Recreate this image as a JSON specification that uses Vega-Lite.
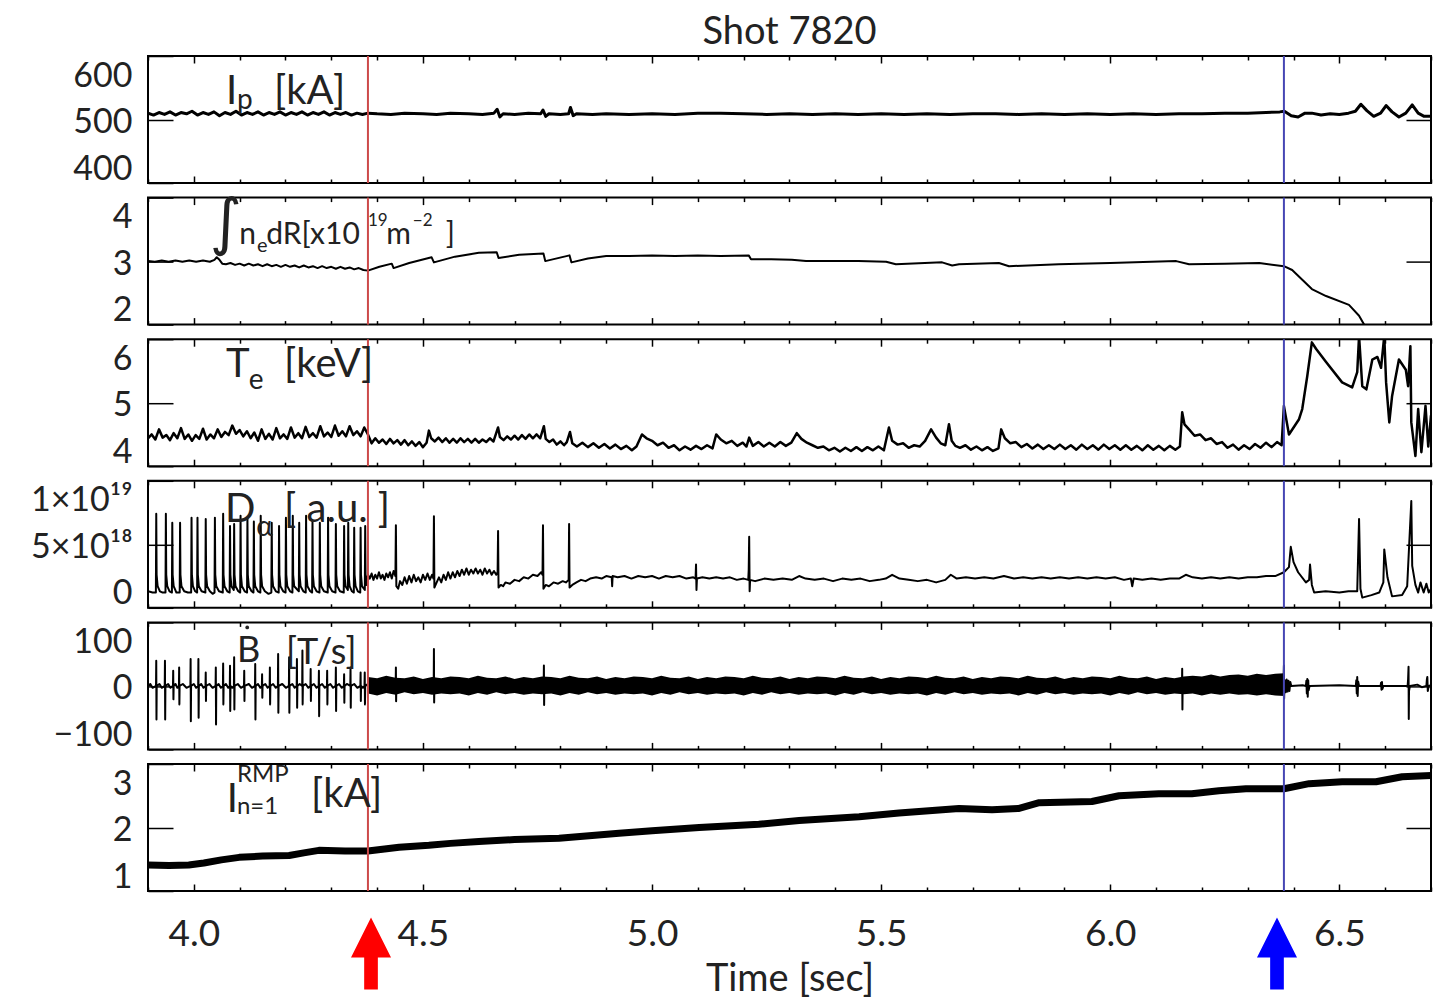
{
"$schema": "https://vega.github.io/schema/vega-lite/v6.json",
"padding": {"left": 29, "right": 2, "top": 13, "bottom": 4},
"background": "white",
"config": {
 "view": {"stroke": "black", "strokeWidth": 2},
 "axis": {"domain": false, "grid": false, "tickColor": "black", "tickWidth": 1.5, "labelFont": "Lato", "labelFontSize": 34, "labelColor": "#222", "labelOverlap": false, "titleFont": "Lato", "titleFontSize": 38, "titleFontWeight": "normal", "titleColor": "#222"},
 "text": {"font": "Lato", "color": "#222"}
},
"spacing": 14.6,
"bounds": "flush",
"vconcat": [
{
 "title": {"text": "Shot 7820", "fontSize": 38, "font": "Lato", "fontWeight": "normal", "color": "#222", "anchor": "middle", "frame": "group", "offset": 3},
 "width": 1283, "height": 127,
 "resolve": {"axis": {"x": "independent", "y": "independent"}},
 "layer": [
  {"data": {"values": [
{"t":3.900,"v":510},{"t":3.912,"v":507},{"t":3.924,"v":511},{"t":3.936,"v":508},{"t":3.948,"v":512},{"t":3.960,"v":507},{"t":3.972,"v":511},{"t":3.984,"v":509},{"t":3.996,"v":513},{"t":4.008,"v":507},{"t":4.020,"v":511},{"t":4.032,"v":508},{"t":4.044,"v":512},{"t":4.056,"v":506},{"t":4.068,"v":511},{"t":4.080,"v":508},{"t":4.092,"v":513},{"t":4.104,"v":507},{"t":4.116,"v":511},{"t":4.128,"v":508},{"t":4.140,"v":512},{"t":4.152,"v":507},{"t":4.164,"v":511},{"t":4.176,"v":508},{"t":4.188,"v":512},{"t":4.200,"v":507},{"t":4.212,"v":511},{"t":4.224,"v":508},{"t":4.236,"v":512},{"t":4.248,"v":507},{"t":4.260,"v":511},{"t":4.272,"v":508},{"t":4.284,"v":512},{"t":4.296,"v":507},{"t":4.308,"v":511},{"t":4.320,"v":508},{"t":4.332,"v":511},{"t":4.344,"v":507},{"t":4.356,"v":510},{"t":4.368,"v":508},{"t":4.380,"v":510},
{"t":4.40,"v":509},{"t":4.43,"v":508},{"t":4.46,"v":510},{"t":4.50,"v":509},{"t":4.53,"v":508},{"t":4.56,"v":510},{"t":4.60,"v":509},{"t":4.63,"v":508},{"t":4.655,"v":510},{"t":4.662,"v":516},{"t":4.668,"v":504},{"t":4.675,"v":509},{"t":4.70,"v":508},{"t":4.73,"v":510},{"t":4.757,"v":509},{"t":4.762,"v":515},{"t":4.768,"v":505},{"t":4.775,"v":509},{"t":4.80,"v":508},{"t":4.818,"v":509},{"t":4.822,"v":519},{"t":4.828,"v":506},{"t":4.835,"v":509},{"t":4.87,"v":508},{"t":4.90,"v":509},{"t":4.95,"v":508},{"t":5.00,"v":509},{"t":5.05,"v":508},{"t":5.10,"v":510},{"t":5.15,"v":510},{"t":5.20,"v":509},{"t":5.25,"v":508},{"t":5.30,"v":509},{"t":5.35,"v":508},{"t":5.40,"v":509},{"t":5.45,"v":508},{"t":5.50,"v":509},{"t":5.55,"v":508},{"t":5.60,"v":509},{"t":5.65,"v":508},{"t":5.70,"v":509},{"t":5.75,"v":509},{"t":5.80,"v":508},{"t":5.85,"v":509},{"t":5.90,"v":508},{"t":5.95,"v":509},{"t":6.00,"v":508},{"t":6.05,"v":509},{"t":6.10,"v":508},{"t":6.15,"v":509},{"t":6.20,"v":509},{"t":6.25,"v":510},{"t":6.30,"v":510},{"t":6.34,"v":511},{"t":6.37,"v":512},{"t":6.38,"v":513},{"t":6.395,"v":506},{"t":6.41,"v":504},{"t":6.425,"v":510},{"t":6.44,"v":510},{"t":6.46,"v":507},{"t":6.48,"v":509},{"t":6.50,"v":508},{"t":6.52,"v":510},{"t":6.535,"v":513},{"t":6.547,"v":524},{"t":6.56,"v":514},{"t":6.575,"v":505},{"t":6.59,"v":510},{"t":6.602,"v":522},{"t":6.615,"v":512},{"t":6.63,"v":504},{"t":6.645,"v":510},{"t":6.659,"v":523},{"t":6.672,"v":510},{"t":6.685,"v":505},{"t":6.70,"v":505}
  ]},
   "mark": {"type": "line", "color": "black", "strokeWidth": 3, "clip": true, "strokeJoin": "round"},
   "encoding": {
    "x": {"field": "t", "type": "quantitative", "scale": {"domain": [3.9, 6.7], "nice": false, "zero": false},
          "axis": {"orient": "bottom", "values": [3.9,4.0,4.1,4.2,4.3,4.4,4.5,4.6,4.7,4.8,4.9,5.0,5.1,5.2,5.3,5.4,5.5,5.6,5.7,5.8,5.9,6.0,6.1,6.2,6.3,6.4,6.5,6.6,6.7], "labels": false, "title": null, "tickSize": {"condition": {"test": "abs(datum.value*2-round(datum.value*2))<0.01", "value": -7}, "value": -4}}},
    "y": {"field": "v", "type": "quantitative", "scale": {"domain": [400, 600], "nice": false, "zero": false},
          "axis": {"orient": "left", "values": [400, 500, 600], "labelExpr": "format(datum.value, 'd')", "labelOverlap": false, "tickSize": -25, "labelPadding": 41, "labelFlush": true, "labelOffset": 3, "title": null}}
   }},
  {"data": {"values": [{"t": 4.38}]}, "mark": {"type": "rule", "color": "#cc4a4a", "strokeWidth": 2}, "encoding": {"x": {"field": "t", "type": "quantitative", "scale": {"domain": [3.9, 6.7], "nice": false, "zero": false}, "axis": null}}},
  {"data": {"values": [{"t": 6.379}]}, "mark": {"type": "rule", "color": "#4646b4", "strokeWidth": 2}, "encoding": {"x": {"field": "t", "type": "quantitative", "scale": {"domain": [3.9, 6.7], "nice": false, "zero": false}, "axis": null}}},
  {"data": {"values": [{"t": 4.070, "v": 524, "txt": "I"}, {"t": 4.175, "v": 524, "txt": "[kA]"}]},
   "mark": {"type": "text", "fontSize": 40, "align": "left", "baseline": "alphabetic"},
   "encoding": {
    "x": {"field": "t", "type": "quantitative", "scale": {"domain": [3.9, 6.7], "nice": false, "zero": false},
          "axis": {"orient": "top", "values": [3.9,4.0,4.1,4.2,4.3,4.4,4.5,4.6,4.7,4.8,4.9,5.0,5.1,5.2,5.3,5.4,5.5,5.6,5.7,5.8,5.9,6.0,6.1,6.2,6.3,6.4,6.5,6.6,6.7], "labels": false, "title": null, "tickSize": {"condition": {"test": "abs(datum.value*2-round(datum.value*2))<0.01", "value": -7}, "value": -4}}},
    "y": {"field": "v", "type": "quantitative", "scale": {"domain": [400, 600], "nice": false, "zero": false},
          "axis": {"orient": "right", "values": [500], "tickSize": -25, "labels": false, "title": null}},
    "text": {"field": "txt"}
   }},
  {"data": {"values": [{"t": 4.094, "v": 516, "txt": "p"}]},
   "mark": {"type": "text", "fontSize": 28, "align": "left", "baseline": "alphabetic"},
   "encoding": {
    "x": {"field": "t", "type": "quantitative", "scale": {"domain": [3.9, 6.7], "nice": false, "zero": false}, "axis": null},
    "y": {"field": "v", "type": "quantitative", "scale": {"domain": [400, 600], "nice": false, "zero": false}, "axis": null},
    "text": {"field": "txt"}
   }}
 ]
},
{
 "width": 1283, "height": 127,
 "resolve": {"axis": {"x": "independent", "y": "independent"}},
 "layer": [
  {"data": {"values": [
{"t":3.900,"v":3.00},{"t":3.915,"v":2.99},{"t":3.930,"v":3.01},{"t":3.945,"v":2.99},{"t":3.960,"v":3.01},{"t":3.975,"v":2.99},{"t":3.990,"v":3.01},{"t":4.005,"v":2.99},{"t":4.020,"v":3.01},{"t":4.035,"v":2.99},{"t":4.045,"v":3.02},{"t":4.050,"v":3.06},{"t":4.056,"v":3.02},{"t":4.062,"v":2.96},{"t":4.070,"v":2.95},{"t":4.080,"v":2.97},{"t":4.090,"v":2.94},{"t":4.100,"v":2.96},{"t":4.110,"v":2.93},{"t":4.120,"v":2.96},{"t":4.130,"v":2.93},{"t":4.140,"v":2.95},{"t":4.150,"v":2.92},{"t":4.160,"v":2.95},{"t":4.170,"v":2.92},{"t":4.180,"v":2.94},{"t":4.190,"v":2.91},{"t":4.200,"v":2.94},{"t":4.210,"v":2.91},{"t":4.220,"v":2.93},{"t":4.230,"v":2.90},{"t":4.240,"v":2.93},{"t":4.250,"v":2.90},{"t":4.260,"v":2.92},{"t":4.270,"v":2.89},{"t":4.280,"v":2.92},{"t":4.290,"v":2.89},{"t":4.300,"v":2.91},{"t":4.310,"v":2.88},{"t":4.320,"v":2.91},{"t":4.330,"v":2.88},{"t":4.340,"v":2.90},{"t":4.350,"v":2.87},{"t":4.360,"v":2.89},{"t":4.370,"v":2.86},{"t":4.380,"v":2.85},{"t":4.405,"v":2.91},{"t":4.432,"v":2.96},{"t":4.436,"v":2.89},{"t":4.470,"v":2.97},{"t":4.519,"v":3.06},{"t":4.524,"v":2.98},{"t":4.570,"v":3.07},{"t":4.622,"v":3.13},{"t":4.661,"v":3.14},{"t":4.665,"v":3.05},{"t":4.710,"v":3.10},{"t":4.763,"v":3.12},{"t":4.767,"v":3.00},{"t":4.820,"v":3.09},{"t":4.824,"v":2.98},{"t":4.860,"v":3.04},{"t":4.900,"v":3.08},{"t":4.950,"v":3.08},{"t":5.000,"v":3.09},{"t":5.050,"v":3.08},{"t":5.100,"v":3.09},{"t":5.150,"v":3.08},{"t":5.211,"v":3.09},{"t":5.216,"v":3.03},{"t":5.260,"v":3.03},{"t":5.305,"v":3.02},{"t":5.336,"v":3.00},{"t":5.400,"v":3.00},{"t":5.450,"v":3.00},{"t":5.511,"v":2.99},{"t":5.532,"v":2.95},{"t":5.633,"v":2.98},{"t":5.655,"v":2.93},{"t":5.670,"v":2.95},{"t":5.757,"v":2.97},{"t":5.779,"v":2.92},{"t":5.888,"v":2.95},{"t":6.000,"v":2.97},{"t":6.144,"v":3.00},{"t":6.172,"v":2.95},{"t":6.250,"v":2.96},{"t":6.325,"v":2.97},{"t":6.379,"v":2.92},{"t":6.397,"v":2.86},{"t":6.440,"v":2.56},{"t":6.471,"v":2.45},{"t":6.521,"v":2.31},{"t":6.543,"v":2.14},{"t":6.554,"v":2.00},{"t":6.600,"v":1.90},{"t":6.700,"v":1.85}
  ]},
   "mark": {"type": "line", "color": "black", "strokeWidth": 2, "clip": true, "strokeJoin": "round"},
   "encoding": {
    "x": {"field": "t", "type": "quantitative", "scale": {"domain": [3.9, 6.7], "nice": false, "zero": false},
          "axis": {"orient": "bottom", "values": [3.9,4.0,4.1,4.2,4.3,4.4,4.5,4.6,4.7,4.8,4.9,5.0,5.1,5.2,5.3,5.4,5.5,5.6,5.7,5.8,5.9,6.0,6.1,6.2,6.3,6.4,6.5,6.6,6.7], "labels": false, "title": null, "tickSize": {"condition": {"test": "abs(datum.value*2-round(datum.value*2))<0.01", "value": -7}, "value": -4}}},
    "y": {"field": "v", "type": "quantitative", "scale": {"domain": [2, 4], "nice": false, "zero": false},
          "axis": {"orient": "left", "values": [2, 3, 4], "labelExpr": "format(datum.value, 'd')", "labelOverlap": false, "tickSize": -25, "labelPadding": 41, "labelFlush": true, "labelOffset": 3, "title": null}}
   }},
  {"data": {"values": [{"t": 4.38}]}, "mark": {"type": "rule", "color": "#cc4a4a", "strokeWidth": 2}, "encoding": {"x": {"field": "t", "type": "quantitative", "scale": {"domain": [3.9, 6.7], "nice": false, "zero": false}, "axis": null}}},
  {"data": {"values": [{"t": 6.379}]}, "mark": {"type": "rule", "color": "#4646b4", "strokeWidth": 2}, "encoding": {"x": {"field": "t", "type": "quantitative", "scale": {"domain": [3.9, 6.7], "nice": false, "zero": false}, "axis": null}}},
  {"data": {"values": [{"t": 4.099, "v": 3.266, "txt": "n"}, {"t": 4.158, "v": 3.266, "txt": "dR[x10"}, {"t": 4.420, "v": 3.266, "txt": "m"}, {"t": 4.550, "v": 3.266, "txt": "]"}]},
   "mark": {"type": "text", "fontSize": 30, "align": "left", "baseline": "alphabetic"},
   "encoding": {
    "x": {"field": "t", "type": "quantitative", "scale": {"domain": [3.9, 6.7], "nice": false, "zero": false},
          "axis": {"orient": "top", "values": [3.9,4.0,4.1,4.2,4.3,4.4,4.5,4.6,4.7,4.8,4.9,5.0,5.1,5.2,5.3,5.4,5.5,5.6,5.7,5.8,5.9,6.0,6.1,6.2,6.3,6.4,6.5,6.6,6.7], "labels": false, "title": null, "tickSize": {"condition": {"test": "abs(datum.value*2-round(datum.value*2))<0.01", "value": -7}, "value": -4}}},
    "y": {"field": "v", "type": "quantitative", "scale": {"domain": [2, 4], "nice": false, "zero": false},
          "axis": {"orient": "right", "values": [3], "tickSize": -25, "labels": false, "title": null}},
    "text": {"field": "txt"}
   }},
  {"data": {"values": [{"t": 4.138, "v": 3.14, "txt": "e"}]},
   "mark": {"type": "text", "fontSize": 20, "align": "left", "baseline": "alphabetic"},
   "encoding": {
    "x": {"field": "t", "type": "quantitative", "scale": {"domain": [3.9, 6.7], "nice": false, "zero": false}, "axis": null},
    "y": {"field": "v", "type": "quantitative", "scale": {"domain": [2, 4], "nice": false, "zero": false}, "axis": null},
    "text": {"field": "txt"}
   }},
  {"data": {"values": [{"t": 4.380, "v": 3.56, "txt": "19"}, {"t": 4.478, "v": 3.56, "txt": "−2"}]},
   "mark": {"type": "text", "fontSize": 17, "align": "left", "baseline": "alphabetic"},
   "encoding": {
    "x": {"field": "t", "type": "quantitative", "scale": {"domain": [3.9, 6.7], "nice": false, "zero": false}, "axis": null},
    "y": {"field": "v", "type": "quantitative", "scale": {"domain": [2, 4], "nice": false, "zero": false}, "axis": null},
    "text": {"field": "txt"}
   }},
  {"data": {"values": [{"t": 4.034, "v": 3.28, "txt": "∫"}]},
   "mark": {"type": "text", "fontSize": 62, "font": "DejaVu Sans", "align": "left", "baseline": "alphabetic"},
   "encoding": {
    "x": {"field": "t", "type": "quantitative", "scale": {"domain": [3.9, 6.7], "nice": false, "zero": false}, "axis": null},
    "y": {"field": "v", "type": "quantitative", "scale": {"domain": [2, 4], "nice": false, "zero": false}, "axis": null},
    "text": {"field": "txt"}
   }}
 ]
},
{
 "width": 1283, "height": 127,
 "resolve": {"axis": {"x": "independent", "y": "independent"}},
 "layer": [
  {"data": {"values": [
{"t":3.900,"v":4.44},{"t":3.908,"v":4.50},{"t":3.916,"v":4.42},{"t":3.924,"v":4.58},{"t":3.932,"v":4.45},{"t":3.940,"v":4.49},{"t":3.948,"v":4.41},{"t":3.956,"v":4.52},{"t":3.964,"v":4.44},{"t":3.972,"v":4.60},{"t":3.980,"v":4.43},{"t":3.988,"v":4.50},{"t":3.996,"v":4.40},{"t":4.004,"v":4.49},{"t":4.012,"v":4.43},{"t":4.020,"v":4.59},{"t":4.028,"v":4.42},{"t":4.036,"v":4.50},{"t":4.044,"v":4.44},{"t":4.052,"v":4.58},{"t":4.060,"v":4.46},{"t":4.068,"v":4.54},{"t":4.076,"v":4.49},{"t":4.084,"v":4.64},{"t":4.092,"v":4.51},{"t":4.100,"v":4.57},{"t":4.108,"v":4.47},{"t":4.116,"v":4.55},{"t":4.124,"v":4.44},{"t":4.132,"v":4.53},{"t":4.140,"v":4.40},{"t":4.148,"v":4.58},{"t":4.156,"v":4.43},{"t":4.164,"v":4.51},{"t":4.172,"v":4.42},{"t":4.180,"v":4.60},{"t":4.188,"v":4.44},{"t":4.196,"v":4.50},{"t":4.204,"v":4.43},{"t":4.212,"v":4.61},{"t":4.220,"v":4.45},{"t":4.228,"v":4.52},{"t":4.236,"v":4.44},{"t":4.244,"v":4.62},{"t":4.252,"v":4.46},{"t":4.260,"v":4.52},{"t":4.268,"v":4.45},{"t":4.276,"v":4.63},{"t":4.284,"v":4.47},{"t":4.292,"v":4.53},{"t":4.300,"v":4.46},{"t":4.308,"v":4.64},{"t":4.316,"v":4.48},{"t":4.324,"v":4.55},{"t":4.332,"v":4.47},{"t":4.340,"v":4.63},{"t":4.348,"v":4.49},{"t":4.356,"v":4.55},{"t":4.364,"v":4.47},{"t":4.372,"v":4.61},{"t":4.380,"v":4.50},
{"t":4.388,"v":4.36},{"t":4.396,"v":4.44},{"t":4.404,"v":4.37},{"t":4.412,"v":4.42},{"t":4.420,"v":4.35},{"t":4.428,"v":4.43},{"t":4.436,"v":4.36},{"t":4.444,"v":4.41},{"t":4.452,"v":4.34},{"t":4.460,"v":4.41},{"t":4.468,"v":4.33},{"t":4.476,"v":4.39},{"t":4.484,"v":4.32},{"t":4.492,"v":4.38},{"t":4.500,"v":4.30},{"t":4.508,"v":4.37},{"t":4.513,"v":4.56},{"t":4.518,"v":4.44},{"t":4.526,"v":4.39},{"t":4.534,"v":4.45},{"t":4.542,"v":4.38},{"t":4.550,"v":4.44},{"t":4.558,"v":4.37},{"t":4.566,"v":4.43},{"t":4.574,"v":4.37},{"t":4.582,"v":4.44},{"t":4.590,"v":4.38},{"t":4.598,"v":4.43},{"t":4.606,"v":4.37},{"t":4.614,"v":4.43},{"t":4.622,"v":4.37},{"t":4.630,"v":4.42},{"t":4.638,"v":4.38},{"t":4.646,"v":4.44},{"t":4.654,"v":4.39},{"t":4.664,"v":4.61},{"t":4.668,"v":4.46},{"t":4.676,"v":4.41},{"t":4.684,"v":4.47},{"t":4.692,"v":4.42},{"t":4.700,"v":4.48},{"t":4.708,"v":4.42},{"t":4.716,"v":4.49},{"t":4.724,"v":4.43},{"t":4.732,"v":4.50},{"t":4.740,"v":4.44},{"t":4.748,"v":4.50},{"t":4.756,"v":4.44},{"t":4.764,"v":4.63},{"t":4.768,"v":4.43},{"t":4.776,"v":4.38},{"t":4.784,"v":4.42},{"t":4.792,"v":4.34},{"t":4.800,"v":4.39},{"t":4.808,"v":4.33},{"t":4.814,"v":4.38},{"t":4.821,"v":4.54},{"t":4.826,"v":4.36},{"t":4.836,"v":4.31},{"t":4.848,"v":4.37},{"t":4.860,"v":4.30},{"t":4.872,"v":4.36},{"t":4.884,"v":4.29},{"t":4.896,"v":4.35},{"t":4.908,"v":4.28},{"t":4.920,"v":4.34},{"t":4.932,"v":4.27},{"t":4.944,"v":4.32},{"t":4.956,"v":4.25},{"t":4.966,"v":4.31},{"t":4.978,"v":4.50},{"t":4.988,"v":4.44},{"t":5.000,"v":4.40},{"t":5.012,"v":4.33},{"t":5.024,"v":4.37},{"t":5.036,"v":4.29},{"t":5.048,"v":4.33},{"t":5.060,"v":4.25},{"t":5.072,"v":4.31},{"t":5.084,"v":4.26},{"t":5.096,"v":4.32},{"t":5.108,"v":4.27},{"t":5.120,"v":4.33},{"t":5.132,"v":4.28},{"t":5.140,"v":4.50},{"t":5.150,"v":4.42},{"t":5.162,"v":4.36},{"t":5.174,"v":4.40},{"t":5.186,"v":4.32},{"t":5.198,"v":4.37},{"t":5.206,"v":4.31},{"t":5.212,"v":4.45},{"t":5.220,"v":4.32},{"t":5.232,"v":4.38},{"t":5.244,"v":4.31},{"t":5.256,"v":4.37},{"t":5.268,"v":4.31},{"t":5.280,"v":4.38},{"t":5.292,"v":4.32},{"t":5.304,"v":4.37},{"t":5.316,"v":4.52},{"t":5.326,"v":4.43},{"t":5.338,"v":4.37},{"t":5.350,"v":4.33},{"t":5.362,"v":4.29},{"t":5.374,"v":4.31},{"t":5.386,"v":4.25},{"t":5.398,"v":4.29},{"t":5.410,"v":4.23},{"t":5.422,"v":4.29},{"t":5.434,"v":4.24},{"t":5.446,"v":4.30},{"t":5.458,"v":4.24},{"t":5.470,"v":4.30},{"t":5.482,"v":4.25},{"t":5.494,"v":4.31},{"t":5.506,"v":4.25},{"t":5.517,"v":4.61},{"t":5.524,"v":4.40},{"t":5.536,"v":4.34},{"t":5.548,"v":4.36},{"t":5.560,"v":4.29},{"t":5.572,"v":4.33},{"t":5.584,"v":4.31},{"t":5.596,"v":4.40},{"t":5.609,"v":4.58},{"t":5.620,"v":4.45},{"t":5.630,"v":4.36},{"t":5.640,"v":4.33},{"t":5.648,"v":4.66},{"t":5.654,"v":4.40},{"t":5.662,"v":4.32},{"t":5.672,"v":4.29},{"t":5.684,"v":4.33},{"t":5.696,"v":4.26},{"t":5.708,"v":4.31},{"t":5.720,"v":4.25},{"t":5.732,"v":4.30},{"t":5.744,"v":4.24},{"t":5.756,"v":4.28},{"t":5.762,"v":4.58},{"t":5.770,"v":4.44},{"t":5.782,"v":4.36},{"t":5.794,"v":4.38},{"t":5.806,"v":4.30},{"t":5.818,"v":4.35},{"t":5.830,"v":4.28},{"t":5.842,"v":4.34},{"t":5.854,"v":4.27},{"t":5.866,"v":4.33},{"t":5.878,"v":4.27},{"t":5.890,"v":4.34},{"t":5.902,"v":4.27},{"t":5.914,"v":4.33},{"t":5.926,"v":4.26},{"t":5.938,"v":4.34},{"t":5.950,"v":4.27},{"t":5.962,"v":4.33},{"t":5.974,"v":4.26},{"t":5.986,"v":4.34},{"t":5.998,"v":4.27},{"t":6.010,"v":4.33},{"t":6.022,"v":4.26},{"t":6.034,"v":4.33},{"t":6.046,"v":4.26},{"t":6.058,"v":4.32},{"t":6.070,"v":4.25},{"t":6.082,"v":4.33},{"t":6.094,"v":4.26},{"t":6.106,"v":4.32},{"t":6.118,"v":4.25},{"t":6.130,"v":4.32},{"t":6.142,"v":4.26},{"t":6.152,"v":4.31},{"t":6.157,"v":4.85},{"t":6.162,"v":4.66},{"t":6.172,"v":4.58},{"t":6.184,"v":4.48},{"t":6.196,"v":4.50},{"t":6.208,"v":4.41},{"t":6.220,"v":4.44},{"t":6.232,"v":4.35},{"t":6.244,"v":4.38},{"t":6.256,"v":4.29},{"t":6.268,"v":4.34},{"t":6.280,"v":4.26},{"t":6.292,"v":4.33},{"t":6.304,"v":4.27},{"t":6.316,"v":4.35},{"t":6.328,"v":4.29},{"t":6.340,"v":4.37},{"t":6.352,"v":4.30},{"t":6.364,"v":4.38},{"t":6.374,"v":4.33},
{"t":6.379,"v":4.95},{"t":6.390,"v":4.50},{"t":6.412,"v":4.74},{"t":6.419,"v":4.90},{"t":6.430,"v":5.42},{"t":6.440,"v":5.95},{"t":6.449,"v":5.85},{"t":6.471,"v":5.64},{"t":6.506,"v":5.32},{"t":6.528,"v":5.24},{"t":6.539,"v":5.48},{"t":6.543,"v":6.05},{"t":6.550,"v":5.26},{"t":6.559,"v":5.21},{"t":6.572,"v":5.68},{"t":6.583,"v":5.72},{"t":6.591,"v":5.55},{"t":6.598,"v":6.05},{"t":6.602,"v":5.32},{"t":6.609,"v":4.69},{"t":6.615,"v":5.10},{"t":6.630,"v":5.68},{"t":6.645,"v":5.52},{"t":6.650,"v":5.26},{"t":6.655,"v":5.89},{"t":6.657,"v":4.69},{"t":6.666,"v":4.16},{"t":6.672,"v":4.90},{"t":6.679,"v":4.22},{"t":6.688,"v":4.95},{"t":6.694,"v":4.31},{"t":6.700,"v":4.80}
  ]},
   "mark": {"type": "line", "color": "black", "strokeWidth": 2.5, "clip": true, "strokeJoin": "round"},
   "encoding": {
    "x": {"field": "t", "type": "quantitative", "scale": {"domain": [3.9, 6.7], "nice": false, "zero": false},
          "axis": {"orient": "bottom", "values": [3.9,4.0,4.1,4.2,4.3,4.4,4.5,4.6,4.7,4.8,4.9,5.0,5.1,5.2,5.3,5.4,5.5,5.6,5.7,5.8,5.9,6.0,6.1,6.2,6.3,6.4,6.5,6.6,6.7], "labels": false, "title": null, "tickSize": {"condition": {"test": "abs(datum.value*2-round(datum.value*2))<0.01", "value": -7}, "value": -4}}},
    "y": {"field": "v", "type": "quantitative", "scale": {"domain": [4, 6], "nice": false, "zero": false},
          "axis": {"orient": "left", "values": [4, 5, 6], "labelExpr": "format(datum.value, 'd')", "labelOverlap": false, "tickSize": -25, "labelPadding": 41, "labelFlush": true, "labelOffset": 3, "title": null}}
   }},
  {"data": {"values": [{"t": 4.38}]}, "mark": {"type": "rule", "color": "#cc4a4a", "strokeWidth": 2}, "encoding": {"x": {"field": "t", "type": "quantitative", "scale": {"domain": [3.9, 6.7], "nice": false, "zero": false}, "axis": null}}},
  {"data": {"values": [{"t": 6.379}]}, "mark": {"type": "rule", "color": "#4646b4", "strokeWidth": 2}, "encoding": {"x": {"field": "t", "type": "quantitative", "scale": {"domain": [3.9, 6.7], "nice": false, "zero": false}, "axis": null}}},
  {"data": {"values": [{"t": 4.070, "v": 5.402, "txt": "T"}, {"t": 4.197, "v": 5.402, "txt": "[keV]"}]},
   "mark": {"type": "text", "fontSize": 40, "align": "left", "baseline": "alphabetic"},
   "encoding": {
    "x": {"field": "t", "type": "quantitative", "scale": {"domain": [3.9, 6.7], "nice": false, "zero": false},
          "axis": {"orient": "top", "values": [3.9,4.0,4.1,4.2,4.3,4.4,4.5,4.6,4.7,4.8,4.9,5.0,5.1,5.2,5.3,5.4,5.5,5.6,5.7,5.8,5.9,6.0,6.1,6.2,6.3,6.4,6.5,6.6,6.7], "labels": false, "title": null, "tickSize": {"condition": {"test": "abs(datum.value*2-round(datum.value*2))<0.01", "value": -7}, "value": -4}}},
    "y": {"field": "v", "type": "quantitative", "scale": {"domain": [4, 6], "nice": false, "zero": false},
          "axis": {"orient": "right", "values": [5], "tickSize": -25, "labels": false, "title": null}},
    "text": {"field": "txt"}
   }},
  {"data": {"values": [{"t": 4.120, "v": 5.213, "txt": "e"}]},
   "mark": {"type": "text", "fontSize": 28, "align": "left", "baseline": "alphabetic"},
   "encoding": {
    "x": {"field": "t", "type": "quantitative", "scale": {"domain": [3.9, 6.7], "nice": false, "zero": false}, "axis": null},
    "y": {"field": "v", "type": "quantitative", "scale": {"domain": [4, 6], "nice": false, "zero": false}, "axis": null},
    "text": {"field": "txt"}
   }}
 ]
},
{
 "width": 1283, "height": 127,
 "resolve": {"axis": {"x": "independent", "y": "independent"}},
 "layer": [
  {"data": {"values": [
{"t":3.900,"v":1.3e18},{"t":3.910,"v":1.2e18},{"t":3.9172,"v":1.2e18},{"t":3.918,"v":7.4e18},{"t":3.9188,"v":2.6e18},{"t":3.921,"v":1.7e18},{"t":3.926,"v":1.3e18},{"t":3.932,"v":1.2e18},{"t":3.9382,"v":1.2e18},{"t":3.939,"v":7.4e18},{"t":3.9398,"v":2.6e18},{"t":3.942,"v":1.7e18},{"t":3.947,"v":1.3e18},{"t":3.9522,"v":1.2e18},{"t":3.953,"v":6.7e18},{"t":3.9538,"v":2.6e18},{"t":3.956,"v":1.7e18},{"t":3.962,"v":1.2e18},{"t":3.9692,"v":1.2e18},{"t":3.970,"v":6.7e18},{"t":3.9708,"v":2.6e18},{"t":3.973,"v":1.7e18},{"t":3.979,"v":1.3e18},{"t":3.987,"v":1.2e18},{"t":3.9942,"v":1.2e18},{"t":3.995,"v":7.1e18},{"t":3.9958,"v":2.6e18},{"t":3.998,"v":1.7e18},{"t":4.003,"v":1.3e18},{"t":4.0072,"v":1.2e18},{"t":4.008,"v":7.1e18},{"t":4.0088,"v":2.6e18},{"t":4.011,"v":1.7e18},{"t":4.017,"v":1.3e18},{"t":4.0252,"v":1.2e18},{"t":4.026,"v":7.0e18},{"t":4.0268,"v":2.6e18},{"t":4.029,"v":1.7e18},{"t":4.035,"v":1.3e18},{"t":4.041,"v":1.1e18},{"t":4.0452,"v":1.2e18},{"t":4.046,"v":7.1e18},{"t":4.0468,"v":2.6e18},{"t":4.049,"v":1.7e18},{"t":4.055,"v":1.3e18},{"t":4.0632,"v":1.2e18},{"t":4.064,"v":7.4e18},{"t":4.0648,"v":2.6e18},{"t":4.067,"v":1.7e18},{"t":4.073,"v":1.3e18},{"t":4.0782,"v":1.2e18},{"t":4.079,"v":6.45e18},{"t":4.0798,"v":2.6e18},{"t":4.082,"v":1.7e18},{"t":4.0872,"v":1.4e18},{"t":4.088,"v":6.6e18},{"t":4.0888,"v":2.6e18},{"t":4.091,"v":1.7e18},{"t":4.097,"v":1.3e18},{"t":4.1012,"v":1.2e18},{"t":4.102,"v":7.25e18},{"t":4.1028,"v":2.6e18},{"t":4.105,"v":1.7e18},{"t":4.111,"v":1.3e18},{"t":4.1162,"v":1.2e18},{"t":4.117,"v":7.1e18},{"t":4.1178,"v":2.6e18},{"t":4.120,"v":1.7e18},{"t":4.126,"v":1.3e18},{"t":4.1302,"v":1.2e18},{"t":4.131,"v":6.8e18},{"t":4.1318,"v":2.6e18},{"t":4.134,"v":1.7e18},{"t":4.140,"v":1.3e18},{"t":4.1452,"v":1.2e18},{"t":4.146,"v":7.25e18},{"t":4.1468,"v":2.6e18},{"t":4.149,"v":1.7e18},{"t":4.155,"v":1.3e18},{"t":4.163,"v":1.1e18},{"t":4.1692,"v":1.2e18},{"t":4.170,"v":6.7e18},{"t":4.1708,"v":2.6e18},{"t":4.173,"v":1.7e18},{"t":4.179,"v":1.3e18},{"t":4.1852,"v":1.2e18},{"t":4.186,"v":6.45e18},{"t":4.1868,"v":2.6e18},{"t":4.189,"v":1.7e18},{"t":4.195,"v":1.3e18},{"t":4.2002,"v":1.2e18},{"t":4.201,"v":7.1e18},{"t":4.2018,"v":2.6e18},{"t":4.204,"v":1.7e18},{"t":4.210,"v":1.3e18},{"t":4.2152,"v":1.2e18},{"t":4.216,"v":7.25e18},{"t":4.2168,"v":2.6e18},{"t":4.219,"v":1.7e18},{"t":4.2292,"v":1.3e18},{"t":4.230,"v":6.7e18},{"t":4.2308,"v":2.6e18},{"t":4.233,"v":1.7e18},{"t":4.239,"v":1.3e18},{"t":4.2442,"v":1.2e18},{"t":4.245,"v":7.25e18},{"t":4.2458,"v":2.6e18},{"t":4.248,"v":1.7e18},{"t":4.254,"v":1.3e18},{"t":4.2582,"v":1.2e18},{"t":4.259,"v":6.85e18},{"t":4.2598,"v":2.6e18},{"t":4.262,"v":1.7e18},{"t":4.268,"v":1.3e18},{"t":4.2742,"v":1.2e18},{"t":4.275,"v":6.7e18},{"t":4.2758,"v":2.6e18},{"t":4.278,"v":1.7e18},{"t":4.284,"v":1.3e18},{"t":4.2922,"v":1.2e18},{"t":4.293,"v":7.1e18},{"t":4.2938,"v":2.6e18},{"t":4.296,"v":1.7e18},{"t":4.302,"v":1.3e18},{"t":4.3092,"v":1.2e18},{"t":4.310,"v":6.6e18},{"t":4.3108,"v":2.6e18},{"t":4.313,"v":1.7e18},{"t":4.319,"v":1.3e18},{"t":4.3272,"v":1.2e18},{"t":4.328,"v":6.45e18},{"t":4.3288,"v":2.6e18},{"t":4.331,"v":1.7e18},{"t":4.3362,"v":1.4e18},{"t":4.337,"v":6.7e18},{"t":4.3378,"v":2.6e18},{"t":4.340,"v":1.7e18},{"t":4.345,"v":1.3e18},{"t":4.3492,"v":1.2e18},{"t":4.350,"v":6.3e18},{"t":4.3508,"v":2.6e18},{"t":4.353,"v":1.7e18},{"t":4.358,"v":1.3e18},{"t":4.3632,"v":1.2e18},{"t":4.364,"v":6.3e18},{"t":4.3648,"v":2.6e18},{"t":4.367,"v":1.7e18},{"t":4.3732,"v":1.4e18},{"t":4.374,"v":6.45e18},{"t":4.3748,"v":2.6e18},{"t":4.377,"v":1.8e18},{"t":4.380,"v":2.6e18},
{"t":4.384,"v":2.3e18},{"t":4.388,"v":2.7e18},{"t":4.392,"v":2.2e18},{"t":4.396,"v":2.6e18},{"t":4.400,"v":2.3e18},{"t":4.404,"v":2.8e18},{"t":4.408,"v":2.3e18},{"t":4.412,"v":2.6e18},{"t":4.416,"v":2.2e18},{"t":4.420,"v":2.7e18},{"t":4.424,"v":2.4e18},{"t":4.428,"v":2.8e18},{"t":4.432,"v":2.3e18},{"t":4.436,"v":2.9e18},{"t":4.440,"v":2.5e18},{"t":4.441,"v":6.5e18},{"t":4.442,"v":1.7e18},{"t":4.446,"v":1.5e18},{"t":4.450,"v":2.1e18},{"t":4.455,"v":1.8e18},{"t":4.460,"v":2.4e18},{"t":4.465,"v":1.9e18},{"t":4.470,"v":2.5e18},{"t":4.475,"v":2.0e18},{"t":4.480,"v":2.6e18},{"t":4.485,"v":2.1e18},{"t":4.490,"v":2.4e18},{"t":4.495,"v":2.0e18},{"t":4.500,"v":2.6e18},{"t":4.505,"v":2.2e18},{"t":4.510,"v":2.7e18},{"t":4.515,"v":2.2e18},{"t":4.520,"v":2.6e18},{"t":4.523,"v":2.3e18},{"t":4.524,"v":7.2e18},{"t":4.525,"v":1.6e18},{"t":4.530,"v":2.0e18},{"t":4.535,"v":2.4e18},{"t":4.540,"v":2.0e18},{"t":4.545,"v":2.6e18},{"t":4.550,"v":2.2e18},{"t":4.555,"v":2.8e18},{"t":4.560,"v":2.3e18},{"t":4.565,"v":2.8e18},{"t":4.570,"v":2.4e18},{"t":4.575,"v":2.9e18},{"t":4.580,"v":2.5e18},{"t":4.585,"v":3.0e18},{"t":4.590,"v":2.6e18},{"t":4.595,"v":3.1e18},{"t":4.600,"v":2.6e18},{"t":4.605,"v":3.0e18},{"t":4.610,"v":2.7e18},{"t":4.615,"v":3.1e18},{"t":4.620,"v":2.7e18},{"t":4.625,"v":3.0e18},{"t":4.630,"v":2.6e18},{"t":4.635,"v":3.1e18},{"t":4.640,"v":2.7e18},{"t":4.645,"v":3.0e18},{"t":4.650,"v":2.6e18},{"t":4.655,"v":2.9e18},{"t":4.660,"v":2.6e18},{"t":4.663,"v":2.8e18},{"t":4.664,"v":6.05e18},{"t":4.665,"v":1.6e18},{"t":4.670,"v":1.8e18},{"t":4.675,"v":1.7e18},{"t":4.680,"v":2.0e18},{"t":4.690,"v":1.9e18},{"t":4.700,"v":2.2e18},{"t":4.710,"v":2.1e18},{"t":4.720,"v":2.4e18},{"t":4.730,"v":2.3e18},{"t":4.740,"v":2.6e18},{"t":4.750,"v":2.5e18},{"t":4.758,"v":2.8e18},{"t":4.761,"v":2.6e18},{"t":4.762,"v":6.5e18},{"t":4.763,"v":1.5e18},{"t":4.768,"v":1.8e18},{"t":4.775,"v":1.7e18},{"t":4.785,"v":2.0e18},{"t":4.795,"v":1.9e18},{"t":4.805,"v":2.1e18},{"t":4.812,"v":2.0e18},{"t":4.818,"v":2.2e18},{"t":4.819,"v":6.6e18},{"t":4.820,"v":1.6e18},{"t":4.826,"v":1.8e18},{"t":4.835,"v":2.0e18},{"t":4.845,"v":2.2e18},{"t":4.855,"v":2.1e18},{"t":4.865,"v":2.3e18},{"t":4.878,"v":2.4e18},{"t":4.890,"v":2.3e18},{"t":4.900,"v":2.5e18},{"t":4.912,"v":2.4e18},{"t":4.913,"v":1.7e18},{"t":4.914,"v":2.5e18},{"t":4.925,"v":2.4e18},{"t":4.940,"v":2.5e18},{"t":4.955,"v":2.3e18},{"t":4.970,"v":2.5e18},{"t":4.985,"v":2.4e18},{"t":5.000,"v":2.5e18},{"t":5.015,"v":2.3e18},{"t":5.030,"v":2.5e18},{"t":5.045,"v":2.4e18},{"t":5.060,"v":2.5e18},{"t":5.075,"v":2.3e18},{"t":5.090,"v":2.4e18},{"t":5.095,"v":2.3e18},{"t":5.096,"v":3.4e18},{"t":5.097,"v":1.4e18},{"t":5.098,"v":2.3e18},{"t":5.110,"v":2.4e18},{"t":5.125,"v":2.3e18},{"t":5.140,"v":2.4e18},{"t":5.155,"v":2.3e18},{"t":5.170,"v":2.4e18},{"t":5.185,"v":2.2e18},{"t":5.200,"v":2.3e18},{"t":5.210,"v":2.2e18},{"t":5.211,"v":3.0e18},{"t":5.212,"v":5.6e18},{"t":5.213,"v":1.3e18},{"t":5.214,"v":2.2e18},
{"t":5.225,"v":2.1e18},{"t":5.245,"v":2.3e18},{"t":5.265,"v":2.2e18},{"t":5.285,"v":2.3e18},{"t":5.305,"v":2.2e18},{"t":5.321,"v":2.5e18},{"t":5.335,"v":2.3e18},{"t":5.355,"v":2.2e18},{"t":5.375,"v":2.3e18},{"t":5.395,"v":2.1e18},{"t":5.415,"v":2.3e18},{"t":5.435,"v":2.2e18},{"t":5.455,"v":2.3e18},{"t":5.475,"v":2.1e18},{"t":5.495,"v":2.2e18},{"t":5.510,"v":2.3e18},{"t":5.524,"v":2.6e18},{"t":5.540,"v":2.3e18},{"t":5.560,"v":2.2e18},{"t":5.580,"v":2.1e18},{"t":5.600,"v":2.2e18},{"t":5.620,"v":2.0e18},{"t":5.640,"v":2.2e18},{"t":5.652,"v":2.6e18},{"t":5.665,"v":2.3e18},{"t":5.685,"v":2.4e18},{"t":5.705,"v":2.3e18},{"t":5.725,"v":2.4e18},{"t":5.745,"v":2.3e18},{"t":5.768,"v":2.5e18},{"t":5.790,"v":2.3e18},{"t":5.810,"v":2.4e18},{"t":5.830,"v":2.3e18},{"t":5.850,"v":2.4e18},{"t":5.870,"v":2.3e18},{"t":5.890,"v":2.4e18},{"t":5.910,"v":2.3e18},{"t":5.930,"v":2.4e18},{"t":5.950,"v":2.3e18},{"t":5.970,"v":2.4e18},{"t":5.990,"v":2.3e18},{"t":6.010,"v":2.4e18},{"t":6.030,"v":2.2e18},{"t":6.045,"v":2.3e18},{"t":6.048,"v":1.7e18},{"t":6.051,"v":2.3e18},{"t":6.070,"v":2.2e18},{"t":6.090,"v":2.3e18},{"t":6.110,"v":2.2e18},{"t":6.130,"v":2.3e18},{"t":6.150,"v":2.3e18},{"t":6.165,"v":2.6e18},{"t":6.180,"v":2.4e18},{"t":6.200,"v":2.3e18},{"t":6.220,"v":2.4e18},{"t":6.240,"v":2.3e18},{"t":6.260,"v":2.4e18},{"t":6.280,"v":2.3e18},{"t":6.300,"v":2.4e18},{"t":6.320,"v":2.4e18},{"t":6.340,"v":2.5e18},{"t":6.360,"v":2.5e18},{"t":6.379,"v":2.8e18},
{"t":6.390,"v":3.2e18},{"t":6.394,"v":4.8e18},{"t":6.400,"v":3.6e18},{"t":6.410,"v":2.8e18},{"t":6.427,"v":2.0e18},{"t":6.434,"v":2.2e18},{"t":6.436,"v":3.4e18},{"t":6.440,"v":1.8e18},{"t":6.445,"v":1.2e18},{"t":6.470,"v":1.3e18},{"t":6.500,"v":1.2e18},{"t":6.520,"v":1.3e18},{"t":6.539,"v":1.3e18},{"t":6.543,"v":7.0e18},{"t":6.546,"v":1.5e18},{"t":6.550,"v":0.8e18},{"t":6.570,"v":1.0e18},{"t":6.587,"v":1.2e18},{"t":6.596,"v":2.0e18},{"t":6.598,"v":4.6e18},{"t":6.605,"v":2.4e18},{"t":6.615,"v":0.9e18},{"t":6.637,"v":1.0e18},{"t":6.648,"v":1.7e18},{"t":6.657,"v":8.4e18},{"t":6.659,"v":3.3e18},{"t":6.666,"v":1.8e18},{"t":6.672,"v":1.2e18},{"t":6.677,"v":2.0e18},{"t":6.684,"v":1.2e18},{"t":6.690,"v":1.9e18},{"t":6.695,"v":1.2e18},{"t":6.700,"v":1.5e18}
  ]},
   "mark": {"type": "line", "color": "black", "strokeWidth": 2, "clip": true, "strokeJoin": "round"},
   "encoding": {
    "x": {"field": "t", "type": "quantitative", "scale": {"domain": [3.9, 6.7], "nice": false, "zero": false},
          "axis": {"orient": "bottom", "values": [3.9,4.0,4.1,4.2,4.3,4.4,4.5,4.6,4.7,4.8,4.9,5.0,5.1,5.2,5.3,5.4,5.5,5.6,5.7,5.8,5.9,6.0,6.1,6.2,6.3,6.4,6.5,6.6,6.7], "labels": false, "title": null, "tickSize": {"condition": {"test": "abs(datum.value*2-round(datum.value*2))<0.01", "value": -7}, "value": -4}}},
    "y": {"field": "v", "type": "quantitative", "scale": {"domain": [0, 1e19], "nice": false, "zero": false},
          "axis": {"orient": "left", "values": [0, 5e18, 1e19], "labelExpr": "datum.value >= 9e18 ? '1×10¹⁹' : (datum.value >= 4e18 ? '5×10¹⁸' : '0')", "labelOverlap": false, "tickSize": -25, "labelPadding": 41, "labelFlush": true, "labelOffset": 3, "title": null}}
   }},
  {"data": {"values": [{"t": 4.38}]}, "mark": {"type": "rule", "color": "#cc4a4a", "strokeWidth": 2}, "encoding": {"x": {"field": "t", "type": "quantitative", "scale": {"domain": [3.9, 6.7], "nice": false, "zero": false}, "axis": null}}},
  {"data": {"values": [{"t": 6.379}]}, "mark": {"type": "rule", "color": "#4646b4", "strokeWidth": 2}, "encoding": {"x": {"field": "t", "type": "quantitative", "scale": {"domain": [3.9, 6.7], "nice": false, "zero": false}, "axis": null}}},
  {"data": {"values": [{"t": 4.068, "v": 6.746e18, "txt": "D"}, {"t": 4.197, "v": 6.746e18, "txt": "[ a.u. ]"}]},
   "mark": {"type": "text", "fontSize": 40, "align": "left", "baseline": "alphabetic"},
   "encoding": {
    "x": {"field": "t", "type": "quantitative", "scale": {"domain": [3.9, 6.7], "nice": false, "zero": false},
          "axis": {"orient": "top", "values": [3.9,4.0,4.1,4.2,4.3,4.4,4.5,4.6,4.7,4.8,4.9,5.0,5.1,5.2,5.3,5.4,5.5,5.6,5.7,5.8,5.9,6.0,6.1,6.2,6.3,6.4,6.5,6.6,6.7], "labels": false, "title": null, "tickSize": {"condition": {"test": "abs(datum.value*2-round(datum.value*2))<0.01", "value": -7}, "value": -4}}},
    "y": {"field": "v", "type": "quantitative", "scale": {"domain": [0, 1e19], "nice": false, "zero": false},
          "axis": {"orient": "right", "values": [5e18], "tickSize": -25, "labels": false, "title": null}},
    "text": {"field": "txt"}
   }},
  {"data": {"values": [{"t": 4.136, "v": 5.635e18, "txt": "α"}]},
   "mark": {"type": "text", "fontSize": 28, "align": "left", "baseline": "alphabetic"},
   "encoding": {
    "x": {"field": "t", "type": "quantitative", "scale": {"domain": [3.9, 6.7], "nice": false, "zero": false}, "axis": null},
    "y": {"field": "v", "type": "quantitative", "scale": {"domain": [0, 1e19], "nice": false, "zero": false}, "axis": null},
    "text": {"field": "txt"}
   }}
 ]
},
{
 "width": 1283, "height": 127,
 "resolve": {"axis": {"x": "independent", "y": "independent"}},
 "layer": [
  {"data": {"values": [
{"t":4.38,"lo":-12,"hi":14},{"t":4.40,"lo":-15,"hi":12},{"t":4.42,"lo":-11,"hi":16},{"t":4.44,"lo":-14,"hi":13},{"t":4.46,"lo":-10,"hi":12},{"t":4.48,"lo":-13,"hi":15},{"t":4.50,"lo":-11,"hi":11},{"t":4.52,"lo":-14,"hi":14},{"t":4.54,"lo":-12,"hi":12},{"t":4.56,"lo":-13,"hi":15},
{"t":4.58,"lo":-12,"hi":14},{"t":4.60,"lo":-15,"hi":12},{"t":4.62,"lo":-11,"hi":16},{"t":4.64,"lo":-14,"hi":13},{"t":4.66,"lo":-10,"hi":12},{"t":4.68,"lo":-13,"hi":15},{"t":4.70,"lo":-11,"hi":11},{"t":4.72,"lo":-14,"hi":14},{"t":4.74,"lo":-12,"hi":12},{"t":4.76,"lo":-13,"hi":15},
{"t":4.78,"lo":-12,"hi":14},{"t":4.80,"lo":-15,"hi":12},{"t":4.82,"lo":-11,"hi":16},{"t":4.84,"lo":-14,"hi":13},{"t":4.86,"lo":-10,"hi":12},{"t":4.88,"lo":-13,"hi":15},{"t":4.90,"lo":-11,"hi":11},{"t":4.92,"lo":-14,"hi":14},{"t":4.94,"lo":-12,"hi":12},{"t":4.96,"lo":-13,"hi":15},
{"t":4.98,"lo":-12,"hi":14},{"t":5.00,"lo":-15,"hi":12},{"t":5.02,"lo":-11,"hi":16},{"t":5.04,"lo":-14,"hi":13},{"t":5.06,"lo":-10,"hi":12},{"t":5.08,"lo":-13,"hi":15},{"t":5.10,"lo":-11,"hi":11},{"t":5.12,"lo":-14,"hi":14},{"t":5.14,"lo":-12,"hi":12},{"t":5.16,"lo":-13,"hi":15},
{"t":5.18,"lo":-12,"hi":14},{"t":5.20,"lo":-15,"hi":12},{"t":5.22,"lo":-11,"hi":16},{"t":5.24,"lo":-14,"hi":13},{"t":5.26,"lo":-10,"hi":12},{"t":5.28,"lo":-13,"hi":15},{"t":5.30,"lo":-11,"hi":11},{"t":5.32,"lo":-14,"hi":14},{"t":5.34,"lo":-12,"hi":12},{"t":5.36,"lo":-13,"hi":15},
{"t":5.38,"lo":-12,"hi":14},{"t":5.40,"lo":-15,"hi":12},{"t":5.42,"lo":-11,"hi":16},{"t":5.44,"lo":-14,"hi":13},{"t":5.46,"lo":-10,"hi":12},{"t":5.48,"lo":-13,"hi":15},{"t":5.50,"lo":-11,"hi":11},{"t":5.52,"lo":-14,"hi":14},{"t":5.54,"lo":-12,"hi":12},{"t":5.56,"lo":-13,"hi":15},
{"t":5.58,"lo":-12,"hi":14},{"t":5.60,"lo":-15,"hi":12},{"t":5.62,"lo":-11,"hi":16},{"t":5.64,"lo":-14,"hi":13},{"t":5.66,"lo":-10,"hi":12},{"t":5.68,"lo":-13,"hi":15},{"t":5.70,"lo":-11,"hi":11},{"t":5.72,"lo":-14,"hi":14},{"t":5.74,"lo":-12,"hi":12},{"t":5.76,"lo":-13,"hi":15},
{"t":5.78,"lo":-12,"hi":14},{"t":5.80,"lo":-15,"hi":12},{"t":5.82,"lo":-11,"hi":16},{"t":5.84,"lo":-14,"hi":13},{"t":5.86,"lo":-10,"hi":12},{"t":5.88,"lo":-13,"hi":15},{"t":5.90,"lo":-11,"hi":11},{"t":5.92,"lo":-14,"hi":14},{"t":5.94,"lo":-12,"hi":12},{"t":5.96,"lo":-13,"hi":15},
{"t":5.98,"lo":-12,"hi":14},{"t":6.00,"lo":-15,"hi":12},{"t":6.02,"lo":-11,"hi":16},{"t":6.04,"lo":-14,"hi":13},{"t":6.06,"lo":-10,"hi":12},{"t":6.08,"lo":-13,"hi":15},{"t":6.10,"lo":-11,"hi":11},{"t":6.12,"lo":-14,"hi":14},{"t":6.14,"lo":-12,"hi":12},{"t":6.16,"lo":-13,"hi":15},
{"t":6.18,"lo":-12,"hi":16},{"t":6.20,"lo":-15,"hi":15},{"t":6.22,"lo":-12,"hi":18},{"t":6.24,"lo":-14,"hi":15},{"t":6.26,"lo":-12,"hi":17},{"t":6.28,"lo":-14,"hi":18},{"t":6.30,"lo":-13,"hi":16},{"t":6.32,"lo":-15,"hi":19},{"t":6.34,"lo":-13,"hi":17},{"t":6.36,"lo":-15,"hi":19},{"t":6.38,"lo":-16,"hi":20}
  ]},
   "mark": {"type": "area", "color": "black", "clip": true},
   "encoding": {
    "x": {"field": "t", "type": "quantitative", "scale": {"domain": [3.9, 6.7], "nice": false, "zero": false}, "axis": null},
    "y": {"field": "lo", "type": "quantitative", "scale": {"domain": [-100, 100], "nice": false, "zero": false}, "axis": null},
    "y2": {"field": "hi"}
   }},
  {"data": {"values": [
{"t":3.900,"v":0},{"t":3.905,"v":3},{"t":3.910,"v":-3},{"t":3.9175,"v":0},{"t":3.918,"v":39.7},{"t":3.9185,"v":-52.9},{"t":3.919,"v":0},{"t":3.925,"v":3},{"t":3.930,"v":-3},{"t":3.9365,"v":0},{"t":3.937,"v":39.7},{"t":3.9375,"v":-53},{"t":3.938,"v":0},{"t":3.944,"v":3},{"t":3.949,"v":-3},{"t":3.9545,"v":0},{"t":3.955,"v":23.8},{"t":3.9555,"v":-21.2},{"t":3.956,"v":0},{"t":3.960,"v":3},{"t":3.964,"v":-3},{"t":3.9675,"v":0},{"t":3.968,"v":29.1},{"t":3.9685,"v":-29.1},{"t":3.969,"v":0},{"t":3.976,"v":3},{"t":3.984,"v":-3},{"t":3.9925,"v":0},{"t":3.993,"v":42.3},{"t":3.9935,"v":-55.6},{"t":3.994,"v":0},{"t":4.000,"v":3},{"t":4.005,"v":-3},{"t":4.0095,"v":0},{"t":4.010,"v":42.3},{"t":4.0105,"v":-50.3},{"t":4.011,"v":0},{"t":4.016,"v":3},{"t":4.021,"v":-3},{"t":4.0255,"v":0},{"t":4.026,"v":21.2},{"t":4.0265,"v":-23.8},{"t":4.027,"v":0},{"t":4.034,"v":3},{"t":4.041,"v":-3},{"t":4.0475,"v":0},{"t":4.048,"v":29.1},{"t":4.0485,"v":-60.8},{"t":4.049,"v":0},{"t":4.054,"v":3},{"t":4.059,"v":-3},{"t":4.0635,"v":0},{"t":4.064,"v":35.4},{"t":4.0645,"v":-29.1},{"t":4.065,"v":0},{"t":4.070,"v":3},{"t":4.075,"v":-3},{"t":4.0785,"v":0},{"t":4.079,"v":31.7},{"t":4.0795,"v":-39.7},{"t":4.080,"v":0},{"t":4.084,"v":-3},{"t":4.0875,"v":0},{"t":4.088,"v":45.0},{"t":4.0885,"v":-37.0},{"t":4.089,"v":0},{"t":4.096,"v":3},{"t":4.103,"v":-3},{"t":4.1095,"v":0},{"t":4.110,"v":23.8},{"t":4.1105,"v":-23.8},{"t":4.111,"v":0},{"t":4.120,"v":3},{"t":4.127,"v":-3},{"t":4.1335,"v":0},{"t":4.134,"v":34.4},{"t":4.1345,"v":-52.9},{"t":4.135,"v":0},{"t":4.140,"v":3},{"t":4.145,"v":-3},{"t":4.1485,"v":0},{"t":4.149,"v":18.5},{"t":4.1495,"v":-18.5},{"t":4.150,"v":0},{"t":4.156,"v":3},{"t":4.161,"v":-3},{"t":4.1655,"v":0},{"t":4.166,"v":29.1},{"t":4.1665,"v":-29.1},{"t":4.167,"v":0},{"t":4.173,"v":3},{"t":4.179,"v":-3},{"t":4.1835,"v":0},{"t":4.184,"v":50.3},{"t":4.1845,"v":-42.3},{"t":4.185,"v":0},{"t":4.193,"v":3},{"t":4.201,"v":-3},{"t":4.2075,"v":0},{"t":4.208,"v":45.0},{"t":4.2085,"v":-42.3},{"t":4.209,"v":0},{"t":4.215,"v":3},{"t":4.220,"v":-3},{"t":4.2245,"v":0},{"t":4.225,"v":42.3},{"t":4.2255,"v":-34.4},{"t":4.226,"v":0},{"t":4.231,"v":3},{"t":4.2365,"v":0},{"t":4.237,"v":55.6},{"t":4.2375,"v":-29.1},{"t":4.238,"v":0},{"t":4.244,"v":3},{"t":4.250,"v":-3},{"t":4.2545,"v":0},{"t":4.255,"v":26.5},{"t":4.2555,"v":-23.8},{"t":4.256,"v":0},{"t":4.262,"v":3},{"t":4.268,"v":-3},{"t":4.2725,"v":0},{"t":4.273,"v":23.8},{"t":4.2735,"v":-47.6},{"t":4.274,"v":0},{"t":4.280,"v":3},{"t":4.286,"v":-3},{"t":4.2905,"v":0},{"t":4.291,"v":23.8},{"t":4.2915,"v":-29.1},{"t":4.292,"v":0},{"t":4.298,"v":3},{"t":4.304,"v":-3},{"t":4.3095,"v":0},{"t":4.310,"v":29.1},{"t":4.3105,"v":-39.7},{"t":4.311,"v":0},{"t":4.317,"v":3},{"t":4.323,"v":-3},{"t":4.3275,"v":0},{"t":4.328,"v":18.5},{"t":4.3285,"v":-26.5},{"t":4.329,"v":0},{"t":4.334,"v":3},{"t":4.3415,"v":0},{"t":4.342,"v":29.1},{"t":4.3425,"v":-34.4},{"t":4.343,"v":0},{"t":4.350,"v":3},{"t":4.357,"v":-3},{"t":4.3635,"v":0},{"t":4.364,"v":21.2},{"t":4.3645,"v":-23.8},{"t":4.365,"v":0},{"t":4.369,"v":-3},{"t":4.3725,"v":0},{"t":4.373,"v":21.2},{"t":4.3735,"v":-29.1},{"t":4.374,"v":0},{"t":4.378,"v":2},{"t":4.380,"v":0},
{"t":4.4405,"v":0},{"t":4.441,"v":29},{"t":4.4415,"v":-24},{"t":4.442,"v":0},{"t":4.5235,"v":0},{"t":4.524,"v":58},{"t":4.5245,"v":-26},{"t":4.525,"v":0},{"t":4.7635,"v":0},{"t":4.764,"v":32},{"t":4.7645,"v":-30},{"t":4.765,"v":0},{"t":6.1565,"v":0},{"t":6.157,"v":27},{"t":6.1575,"v":-37},{"t":6.158,"v":0},{"t":6.378,"v":0},{"t":6.379,"v":32},{"t":6.3795,"v":-20},{"t":6.380,"v":0},
{"t":6.381,"v":9},{"t":6.383,"v":-10},{"t":6.385,"v":10},{"t":6.387,"v":-9},{"t":6.389,"v":8},{"t":6.391,"v":-8},{"t":6.393,"v":6},{"t":6.395,"v":0},{"t":6.420,"v":1},{"t":6.427,"v":0},{"t":6.428,"v":8},{"t":6.429,"v":-12},{"t":6.430,"v":11},{"t":6.431,"v":-17},{"t":6.432,"v":9},{"t":6.433,"v":-7},{"t":6.435,"v":0},{"t":6.500,"v":1},{"t":6.536,"v":0},{"t":6.537,"v":9},{"t":6.538,"v":-12},{"t":6.539,"v":14},{"t":6.540,"v":-16},{"t":6.541,"v":7},{"t":6.543,"v":0},{"t":6.590,"v":0},{"t":6.591,"v":5},{"t":6.592,"v":-6},{"t":6.593,"v":6},{"t":6.594,"v":-5},{"t":6.596,"v":0},{"t":6.649,"v":0},{"t":6.650,"v":10},{"t":6.651,"v":30},{"t":6.6515,"v":-52},{"t":6.652,"v":-8},{"t":6.654,"v":0},{"t":6.670,"v":2},{"t":6.680,"v":-2},{"t":6.690,"v":0},{"t":6.691,"v":10},{"t":6.692,"v":14},{"t":6.693,"v":-8},{"t":6.695,"v":0},{"t":6.700,"v":1}
  ]},
   "mark": {"type": "line", "color": "black", "strokeWidth": 2, "clip": true, "strokeJoin": "round"},
   "encoding": {
    "x": {"field": "t", "type": "quantitative", "scale": {"domain": [3.9, 6.7], "nice": false, "zero": false},
          "axis": {"orient": "bottom", "values": [3.9,4.0,4.1,4.2,4.3,4.4,4.5,4.6,4.7,4.8,4.9,5.0,5.1,5.2,5.3,5.4,5.5,5.6,5.7,5.8,5.9,6.0,6.1,6.2,6.3,6.4,6.5,6.6,6.7], "labels": false, "title": null, "tickSize": {"condition": {"test": "abs(datum.value*2-round(datum.value*2))<0.01", "value": -7}, "value": -4}}},
    "y": {"field": "v", "type": "quantitative", "scale": {"domain": [-100, 100], "nice": false, "zero": false},
          "axis": {"orient": "left", "values": [-100, 0, 100], "labelExpr": "datum.value < 0 ? '−100' : format(datum.value, 'd')", "labelOverlap": false, "tickSize": -25, "labelPadding": 41, "labelFlush": true, "labelOffset": 3, "title": null}}
   }},
  {"data": {"values": [{"t": 4.38}]}, "mark": {"type": "rule", "color": "#cc4a4a", "strokeWidth": 2}, "encoding": {"x": {"field": "t", "type": "quantitative", "scale": {"domain": [3.9, 6.7], "nice": false, "zero": false}, "axis": null}}},
  {"data": {"values": [{"t": 6.379}]}, "mark": {"type": "rule", "color": "#4646b4", "strokeWidth": 2}, "encoding": {"x": {"field": "t", "type": "quantitative", "scale": {"domain": [3.9, 6.7], "nice": false, "zero": false}, "axis": null}}},
  {"data": {"values": [{"t": 4.094, "v": 38.1, "txt": "B"}, {"t": 4.201, "v": 34.9, "txt": "[T/s]"}]},
   "mark": {"type": "text", "fontSize": 36, "align": "left", "baseline": "alphabetic"},
   "encoding": {
    "x": {"field": "t", "type": "quantitative", "scale": {"domain": [3.9, 6.7], "nice": false, "zero": false},
          "axis": {"orient": "top", "values": [3.9,4.0,4.1,4.2,4.3,4.4,4.5,4.6,4.7,4.8,4.9,5.0,5.1,5.2,5.3,5.4,5.5,5.6,5.7,5.8,5.9,6.0,6.1,6.2,6.3,6.4,6.5,6.6,6.7], "labels": false, "title": null, "tickSize": {"condition": {"test": "abs(datum.value*2-round(datum.value*2))<0.01", "value": -7}, "value": -4}}},
    "y": {"field": "v", "type": "quantitative", "scale": {"domain": [-100, 100], "nice": false, "zero": false},
          "axis": {"orient": "right", "values": [0], "tickSize": -25, "labels": false, "title": null}},
    "text": {"field": "txt"}
   }},
  {"data": {"values": [{"t": 4.1165, "v": 92}]},
   "mark": {"type": "point", "shape": "circle", "size": 14, "filled": true, "color": "#222", "opacity": 1},
   "encoding": {
    "x": {"field": "t", "type": "quantitative", "scale": {"domain": [3.9, 6.7], "nice": false, "zero": false}, "axis": null},
    "y": {"field": "v", "type": "quantitative", "scale": {"domain": [-100, 100], "nice": false, "zero": false}, "axis": null}
   }}
 ]
},
{
 "width": 1283, "height": 127,
 "resolve": {"axis": {"x": "independent", "y": "independent"}},
 "layer": [
  {"data": {"values": [
{"t":3.900,"v":1.41},{"t":3.946,"v":1.40},{"t":3.989,"v":1.41},{"t":4.022,"v":1.44},{"t":4.060,"v":1.49},{"t":4.099,"v":1.53},{"t":4.150,"v":1.55},{"t":4.208,"v":1.56},{"t":4.240,"v":1.60},{"t":4.273,"v":1.64},{"t":4.330,"v":1.63},{"t":4.380,"v":1.63},{"t":4.448,"v":1.69},{"t":4.513,"v":1.72},{"t":4.560,"v":1.75},{"t":4.622,"v":1.78},{"t":4.700,"v":1.81},{"t":4.797,"v":1.83},{"t":4.928,"v":1.91},{"t":5.000,"v":1.95},{"t":5.103,"v":2.00},{"t":5.233,"v":2.05},{"t":5.321,"v":2.11},{"t":5.452,"v":2.17},{"t":5.539,"v":2.23},{"t":5.670,"v":2.30},{"t":5.742,"v":2.28},{"t":5.801,"v":2.30},{"t":5.845,"v":2.39},{"t":5.960,"v":2.41},{"t":6.019,"v":2.50},{"t":6.106,"v":2.53},{"t":6.178,"v":2.53},{"t":6.237,"v":2.58},{"t":6.296,"v":2.61},{"t":6.379,"v":2.61},{"t":6.434,"v":2.69},{"t":6.506,"v":2.72},{"t":6.580,"v":2.72},{"t":6.637,"v":2.80},{"t":6.700,"v":2.82}
  ]},
   "mark": {"type": "line", "color": "black", "strokeWidth": 7, "clip": true, "strokeJoin": "round"},
   "encoding": {
    "x": {"field": "t", "type": "quantitative", "scale": {"domain": [3.9, 6.7], "nice": false, "zero": false},
          "axis": {"orient": "bottom", "values": [3.9,4.0,4.1,4.2,4.3,4.4,4.5,4.6,4.7,4.8,4.9,5.0,5.1,5.2,5.3,5.4,5.5,5.6,5.7,5.8,5.9,6.0,6.1,6.2,6.3,6.4,6.5,6.6,6.7], "labels": true, "labelFontSize": 37, "labelExpr": "abs(datum.value*2-round(datum.value*2))<0.01 ? format(datum.value, '.1f') : ''", "labelFlush": false, "labelPadding": 32, "title": "Time [sec]", "titlePadding": 5, "tickSize": {"condition": {"test": "abs(datum.value*2-round(datum.value*2))<0.01", "value": -7}, "value": -4}}},
    "y": {"field": "v", "type": "quantitative", "scale": {"domain": [1, 3], "nice": false, "zero": false},
          "axis": {"orient": "left", "values": [1, 2, 3], "labelExpr": "format(datum.value, 'd')", "labelOverlap": false, "tickSize": -25, "labelPadding": 41, "labelFlush": true, "labelOffset": 3, "title": null}}
   }},
  {"data": {"values": [{"t": 4.38}]}, "mark": {"type": "rule", "color": "#cc4a4a", "strokeWidth": 2}, "encoding": {"x": {"field": "t", "type": "quantitative", "scale": {"domain": [3.9, 6.7], "nice": false, "zero": false}, "axis": null}}},
  {"data": {"values": [{"t": 6.379}]}, "mark": {"type": "rule", "color": "#4646b4", "strokeWidth": 2}, "encoding": {"x": {"field": "t", "type": "quantitative", "scale": {"domain": [3.9, 6.7], "nice": false, "zero": false}, "axis": null}}},
  {"data": {"values": [{"t": 4.072, "v": 2.25, "txt": "I"}, {"t": 4.256, "v": 2.328, "txt": "[kA]"}]},
   "mark": {"type": "text", "fontSize": 40, "align": "left", "baseline": "alphabetic"},
   "encoding": {
    "x": {"field": "t", "type": "quantitative", "scale": {"domain": [3.9, 6.7], "nice": false, "zero": false},
          "axis": {"orient": "top", "values": [3.9,4.0,4.1,4.2,4.3,4.4,4.5,4.6,4.7,4.8,4.9,5.0,5.1,5.2,5.3,5.4,5.5,5.6,5.7,5.8,5.9,6.0,6.1,6.2,6.3,6.4,6.5,6.6,6.7], "labels": false, "title": null, "tickSize": {"condition": {"test": "abs(datum.value*2-round(datum.value*2))<0.01", "value": -7}, "value": -4}}},
    "y": {"field": "v", "type": "quantitative", "scale": {"domain": [1, 3], "nice": false, "zero": false},
          "axis": {"orient": "right", "values": [2], "tickSize": -25, "labels": false, "title": null}},
    "text": {"field": "txt"}
   }},
  {"data": {"values": [{"t": 4.094, "v": 2.719, "txt": "RMP"}, {"t": 4.094, "v": 2.219, "txt": "n=1"}]},
   "mark": {"type": "text", "fontSize": 24, "align": "left", "baseline": "alphabetic"},
   "encoding": {
    "x": {"field": "t", "type": "quantitative", "scale": {"domain": [3.9, 6.7], "nice": false, "zero": false}, "axis": null},
    "y": {"field": "v", "type": "quantitative", "scale": {"domain": [1, 3], "nice": false, "zero": false}, "axis": null},
    "text": {"field": "txt"}
   }},
  {"data": {"values": [{"t": 4.3867, "v": 0.016}]},
   "mark": {"type": "point", "shape": "M0,-1L0.556,0.111L0.19,0.111L0.19,1L-0.19,1L-0.19,0.111L-0.556,0.111Z", "size": 5184, "filled": true, "color": "#ff0000", "opacity": 1, "strokeWidth": 0},
   "encoding": {
    "x": {"field": "t", "type": "quantitative", "scale": {"domain": [3.9, 6.7], "nice": false, "zero": false}, "axis": null},
    "y": {"field": "v", "type": "quantitative", "scale": {"domain": [1, 3], "nice": false, "zero": false}, "axis": null}
   }},
  {"data": {"values": [{"t": 6.3639, "v": 0.016}]},
   "mark": {"type": "point", "shape": "M0,-1L0.556,0.111L0.19,0.111L0.19,1L-0.19,1L-0.19,0.111L-0.556,0.111Z", "size": 5184, "filled": true, "color": "#0000ff", "opacity": 1, "strokeWidth": 0},
   "encoding": {
    "x": {"field": "t", "type": "quantitative", "scale": {"domain": [3.9, 6.7], "nice": false, "zero": false}, "axis": null},
    "y": {"field": "v", "type": "quantitative", "scale": {"domain": [1, 3], "nice": false, "zero": false}, "axis": null}
   }}
 ]
}
]
}
